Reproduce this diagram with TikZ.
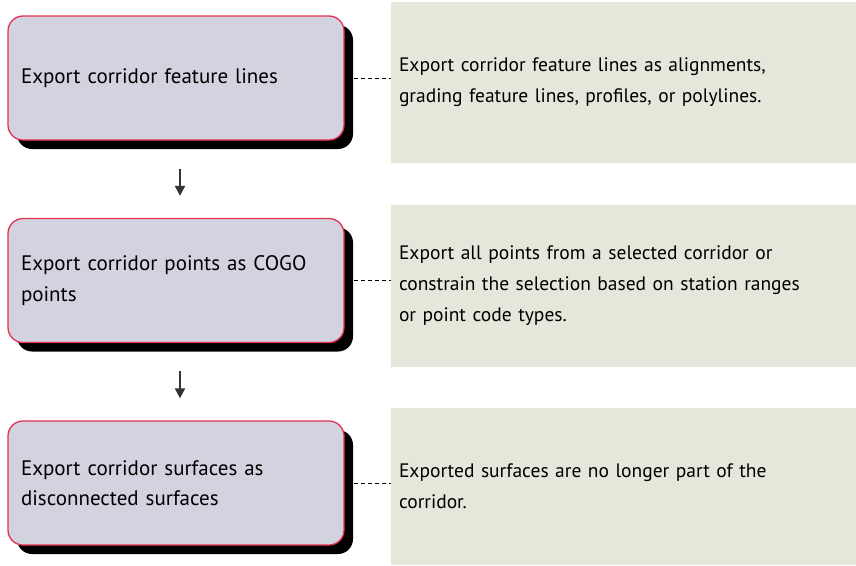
\documentclass[tikz,border=0pt]{standalone}
\usepackage{fontspec}
\setmainfont{PT Sans}
\usepackage{xcolor}
\usepackage{tikz}
\usetikzlibrary{arrows.meta, positioning}
\usetikzlibrary{shadows}

\definecolor{stepfill}{HTML}{D3D3DF}
\definecolor{stepline}{HTML}{E83050}
\definecolor{notefill}{HTML}{E4E7DA}
\definecolor{arrowgray}{HTML}{333333}

\tikzset{
    stepbox/.style={rectangle, rounded corners=15pt, draw=stepline, line width=1.3pt,
        fill=stepfill, minimum width=336pt, minimum height=124pt,
        text width=310pt, align=left, inner xsep=13pt,
        general shadow={fill=black, shadow xshift=9pt, shadow yshift=-9pt},
        font=\fontsize{21}{30.5}\selectfont},
    notebox/.style={rectangle, fill=notefill, minimum width=465pt,
        text width=449pt, align=left, inner xsep=8pt,
        font=\fontsize{19.5}{31}\selectfont},
    link/.style={dashed, dash pattern=on 4pt off 3pt, line width=1pt},
    flow/.style={-{Triangle[length=10pt, width=10pt]}, arrowgray, line width=2.2pt}
}

\begin{document}
\begin{tikzpicture}[x=1pt, y=-1pt]

        \useasboundingbox (0,0) rectangle (856,565);

        \node[notebox, minimum height=161pt] (note1) at (623.5,82.5) {Export corridor feature lines as alignments,\\grading feature lines, profiles, or polylines.};
        \node[notebox, minimum height=162pt] (note2) at (623.5,286) {Export all points from a selected corridor or\\constrain the selection based on station ranges\\or point code types.};
        \node[notebox, minimum height=157pt] (note3) at (623.5,486.5) {Exported surfaces are no longer part of the\\corridor.};

        \node[stepbox] (exp1) at (176,78) {Export corridor feature lines};
        \node[stepbox] (exp2) at (176,280.5) {Export corridor points as COGO\\points};
        \node[stepbox] (exp3) at (176,483) {Export corridor surfaces as\\disconnected surfaces};

        \draw[link] ([xshift=9pt]exp1.east) -- (exp1.east -| note1.west);
        \draw[link] ([xshift=9pt]exp2.east) -- (exp2.east -| note2.west);
        \draw[link] ([xshift=9pt]exp3.east) -- (exp3.east -| note3.west);

        \draw[flow, shorten <=28pt, shorten >=22pt] ([xshift=4pt]exp1.south) -- ([xshift=4pt]exp2.north);
        \draw[flow, shorten <=28pt, shorten >=22pt] ([xshift=4pt]exp2.south) -- ([xshift=4pt]exp3.north);
    \end{tikzpicture}
\end{document}
